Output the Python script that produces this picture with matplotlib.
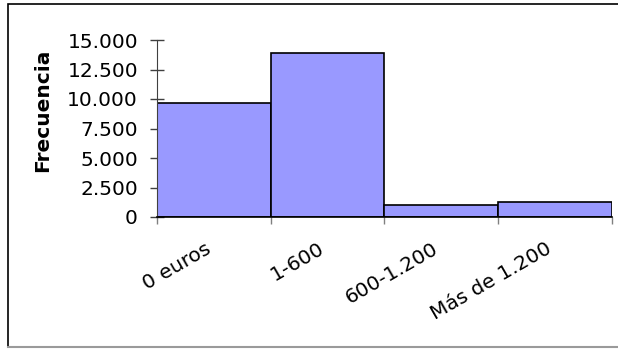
import matplotlib
matplotlib.use("Agg")
from matplotlib import pyplot as plt
from matplotlib.patches import Rectangle
from matplotlib.transforms import ScaledTranslation
from matplotlib.ticker import FixedLocator, NullFormatter, FuncFormatter

# Frecuencia por tramo de importe
categorias = ["0 euros", "1-600", "600-1.200", "Más de 1.200"]
frecuencias = [9700, 13900, 1000, 1250]
yticks = [0, 2500, 5000, 7500, 10000, 12500, 15000]

plt.rcParams['font.family'] = ['DejaVu Sans']

fig = plt.figure(figsize=(6.18, 3.49), dpi=100)
W, H = 618, 349
ax = fig.add_axes([157 / W, 1 - 217 / H, (611.7 - 157) / W, (217 - 40) / H])

pos = list(range(len(categorias)))
ax.bar(pos, frecuencias, width=1.0, align='edge', color='#9999FF',
       edgecolor='black', linewidth=1.2, zorder=2)

ax.set_xlim(0, len(categorias))
ax.set_ylim(0, 15000)

# marcas entre categorias
ax.xaxis.set_major_locator(FixedLocator(list(range(len(categorias) + 1))))
ax.xaxis.set_major_formatter(NullFormatter())
ax.tick_params(axis='x', direction='out', length=5, width=1, color='#808080')

# etiquetas giradas, centradas bajo cada barra
desp = ScaledTranslation(-9 / 100, -22 / 100, fig.dpi_scale_trans)
for p, nombre in zip(pos, categorias):
    ax.text(p + 0.5, 0, nombre, transform=ax.get_xaxis_transform() + desp,
            rotation=30, rotation_mode='anchor', ha='right', va='top',
            fontsize=14.5)

ax.set_yticks(yticks)
ax.yaxis.set_major_formatter(
    FuncFormatter(lambda v, p: f"{int(v):,}".replace(",", ".")))
ax.tick_params(axis='y', direction='inout', length=9.4, width=1,
               color='#404040', labelsize=14.5, pad=9)

fig.text(43 / W, 1 - 110.5 / H, "Frecuencia", rotation=90, ha='center',
         va='center', fontsize=14.5, fontweight='bold')

for side in ('top', 'right'):
    ax.spines[side].set_visible(False)
ax.spines['left'].set_color('#404040')
ax.spines['bottom'].set_linewidth(1.2)

# marco del grafico
fig.patches.append(Rectangle((8 / W, 1 - 347 / H), 1.0, (347 - 4) / H,
                             transform=fig.transFigure, fill=False,
                             edgecolor='black', linewidth=1.2, zorder=0))
fig.add_artist(plt.Line2D([8 / W, 1], [1 - 347 / H, 1 - 347 / H],
                          transform=fig.transFigure, color='#9a9a9a',
                          linewidth=1.5))

fig.savefig("out.png", dpi=100)
